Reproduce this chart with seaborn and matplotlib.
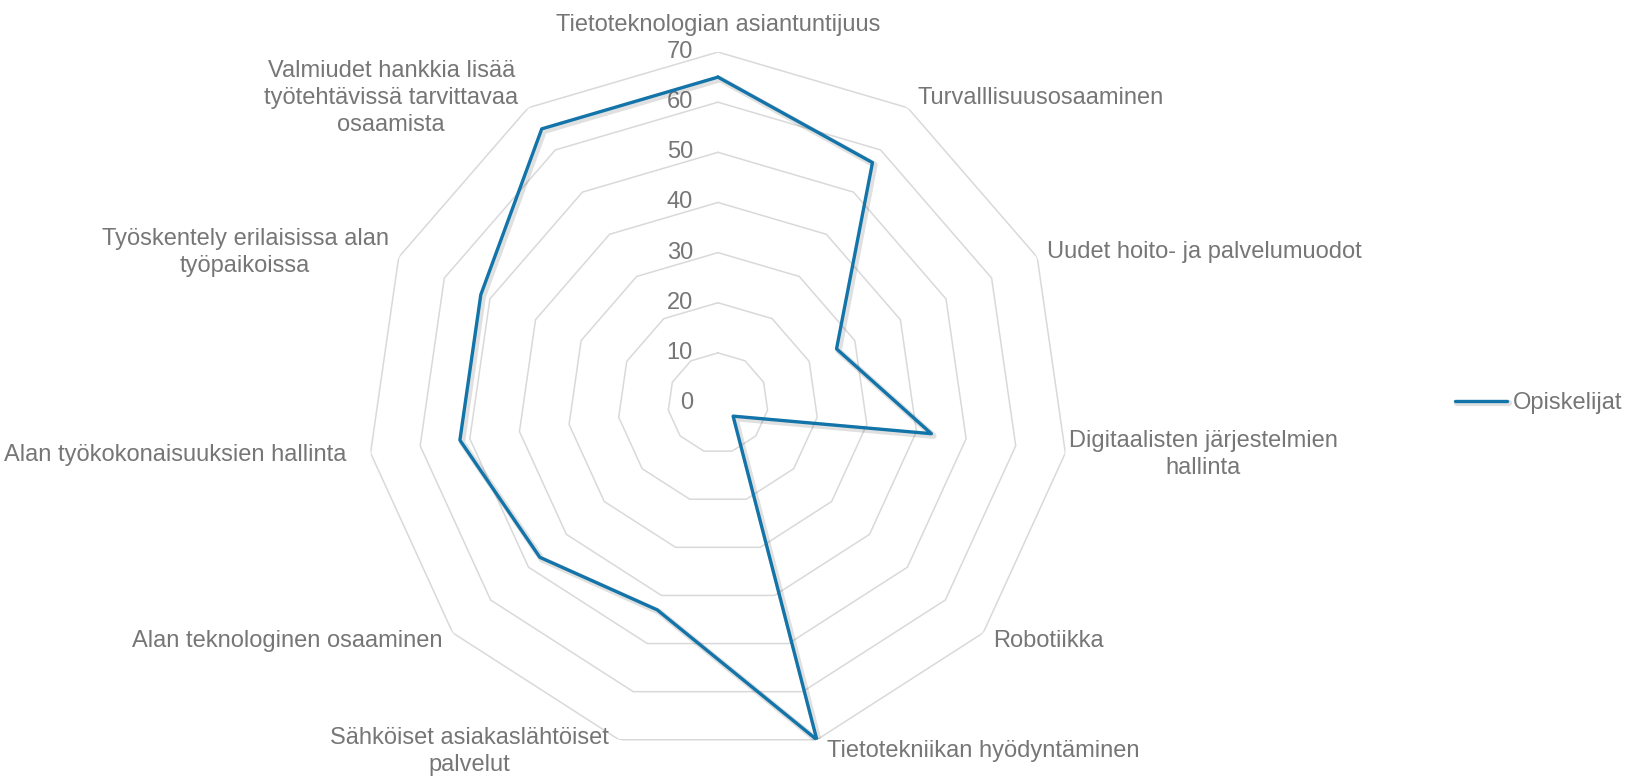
import numpy as np
import matplotlib
matplotlib.use("Agg")
import matplotlib.pyplot as plt
import matplotlib.patheffects as pe
import seaborn as sns

categories = [
    "Tietoteknologian asiantuntijuus",
    "Turvalllisuusosaaminen",
    "Uudet hoito- ja palvelumuodot",
    "Digitaalisten järjestelmien\nhallinta",
    "Robotiikka",
    "Tietotekniikan hyödyntäminen",
    "Sähköiset asiakaslähtöiset\npalvelut",
    "Alan teknologinen osaaminen",
    "Alan työkokonaisuuksien hallinta",
    "Työskentely erilaisissa alan\ntyöpaikoissa",
    "Valmiudet hankkia lisää\ntyötehtävissä tarvittavaa\nosaamista",
]
series_name = "Opiskelijat"
values = [65, 57, 26, 43, 4, 70, 43, 47, 52, 52, 65]
r_ticks = [0, 10, 20, 30, 40, 50, 60, 70]

sns.set_theme(style="white")
plt.rcParams["font.family"] = ["Liberation Sans", "DejaVu Sans"]

TEXT = "#767676"
GRID = "#d9d9d9"
LINE = "#1274a9"
FS = 17

fig = plt.figure(figsize=(16.26, 7.76), dpi=100)
ax = fig.add_axes([0.2257, 0.02835, 0.4317, 0.9046], projection="polar")
ax.set_theta_zero_location("N")
ax.set_theta_direction(-1)
ax.set_ylim(0, 70)
ax.grid(False)
ax.set_xticks([])
ax.set_yticks([])
ax.spines["polar"].set_visible(False)
ax.patch.set_alpha(0)

n = len(categories)
theta = np.arange(n) * 2 * np.pi / n
theta_c = np.append(theta, 2 * np.pi)

# polygon grid rings
for r in r_ticks[1:]:
    ax.plot(theta_c, [r] * (n + 1), color=GRID, lw=1.1, zorder=1)

# tick labels
for r in r_ticks:
    ax.annotate(str(r), xy=(0, r), xytext=(-25, 0), textcoords="offset pixels",
                ha="right", va="center", fontsize=FS, color=TEXT, annotation_clip=False)

# category labels
for k, (t, lab) in enumerate(zip(theta, categories)):
    s, c = np.sin(t), np.cos(t)
    if abs(s) < 0.1:
        ha, dx, dy, va = "center", 0, 16, "bottom"
    else:
        ha = "left" if s > 0 else "right"
        dx = 10 if s > 0 else -10
        dy = 12 * c
        va = "center"
        if abs(c) < 0.2:
            if s > 0:
                ha, dx = "center", 138
            else:
                dx = -24
    ax.annotate(lab, xy=(t, 70), xytext=(dx, dy), textcoords="offset pixels",
                ha=ha, va=va, multialignment="center", fontsize=FS, color=TEXT,
                linespacing=1.3, annotation_clip=False)

vals_c = values + values[:1]
sns.lineplot(x=theta_c, y=vals_c, sort=False, estimator=None, ax=ax, color=LINE,
             linewidth=2.4, label=series_name, zorder=3,
             path_effects=[pe.SimpleLineShadow(offset=(1.5, -1.5), shadow_color="black", alpha=0.12, linewidth=4.5),
                           pe.Normal()])
ax.get_legend().remove()
ax.set_ylim(0, 70)

handles, labels = ax.get_legend_handles_labels()
leg = fig.legend(handles[-1:], labels[-1:], loc="center left",
                 bbox_to_anchor=(1455 / 1626, 1 - 403 / 776), frameon=False,
                 fontsize=FS, handlelength=2.2, handletextpad=0.25, borderpad=0, borderaxespad=0)
for t in leg.get_texts():
    t.set_color(TEXT)

fig.savefig("out.png", dpi=100)
